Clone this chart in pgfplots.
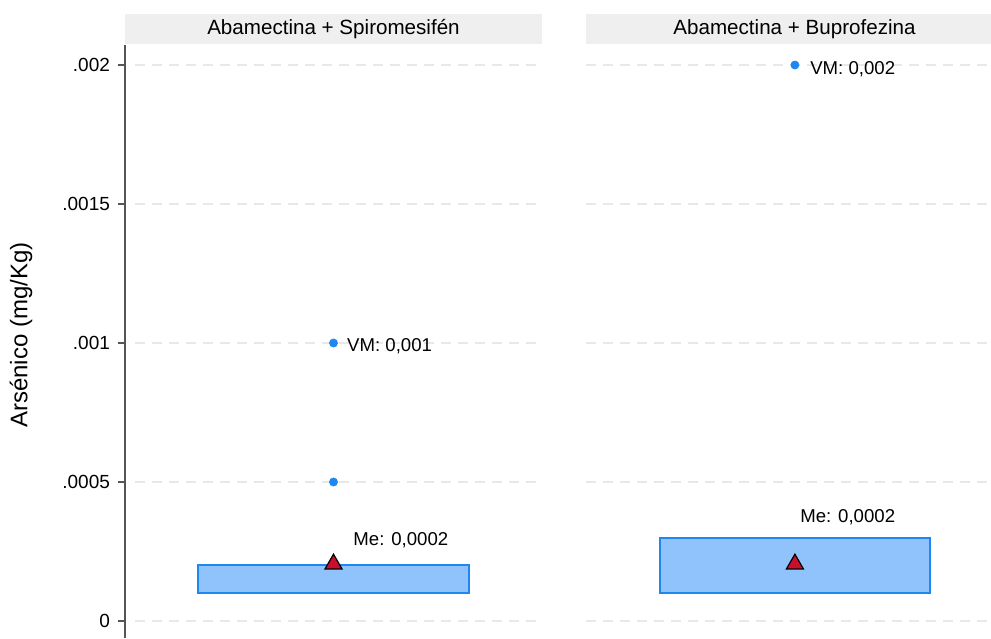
\documentclass[border=0pt]{standalone}
\usepackage{fontspec}
\setmainfont{Liberation Sans}
\usepackage{pgfplots}
\pgfplotsset{compat=1.18}
\definecolor{boxfill}{HTML}{90C3FB}
\definecolor{boxline}{HTML}{1E88F0}
\definecolor{meanred}{HTML}{C8102E}
\definecolor{gridc}{HTML}{E8E8E8}
\definecolor{stripc}{HTML}{EFEFEF}
\definecolor{axc}{HTML}{555555}
\newcommand{\fs}{\fontsize{9.5}{11}\selectfont}
\newcommand{\fa}{\fontsize{9.3}{11}\selectfont}
\newcommand{\fh}{\fontsize{10.3}{12}\selectfont}
\newcommand{\fl}{\fontsize{12}{14}\selectfont}
\begin{document}
\begin{tikzpicture}
\useasboundingbox (0,0) rectangle (495.5pt,319pt);
\clip (0,0) rectangle (495.5pt,319pt);
\pgfplotsset{panel/.style={
  scale only axis, width=208.5pt, height=296.5pt,
  xmin=0, xmax=1, ymin=-0.0000612, ymax=0.002072,
  anchor=south west, clip=false,
  xtick=\empty, scaled y ticks=false,
  ticklabel style={font=\fs},
  /pgf/number format/assume math mode=true,
}}
% ---------------- left panel
\begin{axis}[panel, at={(62.5pt,0pt)},
  axis x line=none, axis y line*=left,
  axis line style={axc, line width=0.6pt},
  ytick={0,0.0005,0.001,0.0015,0.002},
  yticklabels={0,.0005,.001,.0015,.002},
  tick align=outside, major tick length=3.5pt,
  tick style={axc, line width=0.6pt},
  yticklabel style={xshift=-0.5pt},
]
\fill[stripc] ([yshift=0.5pt]rel axis cs:0,1) rectangle ([yshift=15.5pt]rel axis cs:1,1);
\node[font=\fh] at ([yshift=8pt]rel axis cs:0.5,1) {Abamectina + Spiromesifén};
\draw[gridc, line width=1pt, dash pattern=on 5pt off 3.5pt] (axis cs:0.024,0) -- (axis cs:0.995,0);
\draw[gridc, line width=1pt, dash pattern=on 5pt off 3.5pt] (axis cs:0.024,0.0005) -- (axis cs:0.995,0.0005);
\draw[gridc, line width=1pt, dash pattern=on 5pt off 3.5pt] (axis cs:0.024,0.001) -- (axis cs:0.995,0.001);
\draw[gridc, line width=1pt, dash pattern=on 5pt off 3.5pt] (axis cs:0.024,0.0015) -- (axis cs:0.995,0.0015);
\draw[gridc, line width=1pt, dash pattern=on 5pt off 3.5pt] (axis cs:0.024,0.002) -- (axis cs:0.995,0.002);
\addplot[fill=boxfill, draw=boxline, line width=1pt] coordinates {(0.176,0.0001) (0.824,0.0001) (0.824,0.0002) (0.176,0.0002)} -- cycle;
\addplot[only marks, mark=*, mark size=2pt, color=boxline] coordinates {(0.5,0.0005) (0.5,0.001)};
\addplot[only marks, mark=triangle*, mark size=4.9pt, mark options={fill=meanred, draw=black, line width=0.6pt}] coordinates {(0.5,0.000205)};
\node[anchor=west, font=\fa, inner sep=0pt] at (axis cs:0.532,0.00099) {VM: 0,001};
\node[anchor=west, font=\fa, inner sep=0pt] at (axis cs:0.547,0.000291) {Me: 0,0002};
\end{axis}
% ---------------- right panel
\begin{axis}[panel, at={(293pt,0pt)},
  axis x line=none, axis y line=none,
  ytick=\empty,
]
\fill[stripc] ([yshift=0.5pt]rel axis cs:0,1) rectangle ([yshift=15.5pt]rel axis cs:1,1);
\node[font=\fh] at ([yshift=8pt]rel axis cs:0.5,1) {Abamectina + Buprofezina};
\draw[gridc, line width=1pt, dash pattern=on 5pt off 3.5pt] (axis cs:0,0) -- (axis cs:0.995,0);
\draw[gridc, line width=1pt, dash pattern=on 5pt off 3.5pt] (axis cs:0,0.0005) -- (axis cs:0.995,0.0005);
\draw[gridc, line width=1pt, dash pattern=on 5pt off 3.5pt] (axis cs:0,0.001) -- (axis cs:0.995,0.001);
\draw[gridc, line width=1pt, dash pattern=on 5pt off 3.5pt] (axis cs:0,0.0015) -- (axis cs:0.995,0.0015);
\draw[gridc, line width=1pt, dash pattern=on 5pt off 3.5pt] (axis cs:0,0.002) -- (axis cs:0.995,0.002);
\addplot[fill=boxfill, draw=boxline, line width=1pt] coordinates {(0.177,0.0001) (0.825,0.0001) (0.825,0.0003) (0.177,0.0003)} -- cycle;
\addplot[only marks, mark=*, mark size=2pt, color=boxline] coordinates {(0.501,0.002)};
\addplot[only marks, mark=triangle*, mark size=4.9pt, mark options={fill=meanred, draw=black, line width=0.6pt}] coordinates {(0.501,0.000205)};
\node[anchor=west, font=\fa, inner sep=0pt] at (axis cs:0.537,0.001985) {VM: 0,002};
\node[anchor=west, font=\fa, inner sep=0pt] at (axis cs:0.513,0.000374) {Me: 0,0002};
\end{axis}
\node[rotate=90, font=\fl] at (10.5pt,151.5pt) {Arsénico (mg/Kg)};
\end{tikzpicture}
\end{document}
